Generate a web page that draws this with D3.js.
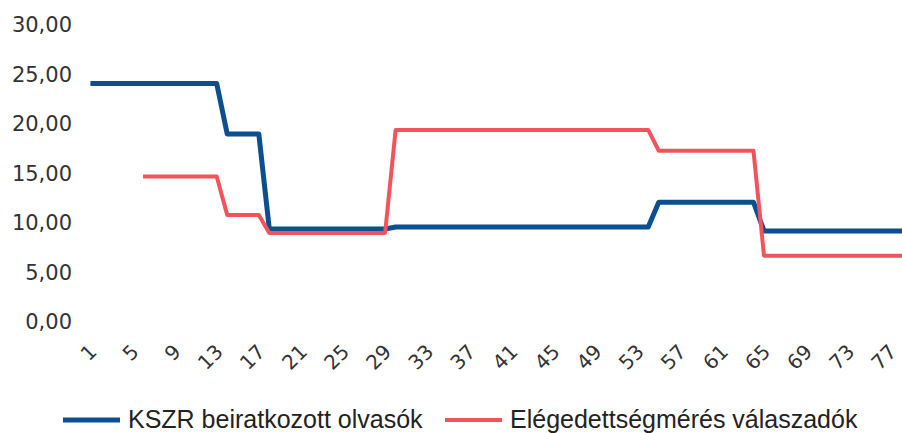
<!DOCTYPE html>
<html>
<head>
<meta charset="utf-8">
<script src="https://cdn.jsdelivr.net/npm/d3@7"></script>
<style>
  body { margin: 0; background: #fff; }
  svg { display: block; }
</style>
</head>
<body>
<div id="chart"></div>
<script>
var width = 902, height = 433;

// categories 1..79
var categories = [1,2,3,4,5,6,7,8,9,10,11,12,13,14,15,16,17,18,19,20,
  21,22,23,24,25,26,27,28,29,30,31,32,33,34,35,36,37,38,39,40,
  41,42,43,44,45,46,47,48,49,50,51,52,53,54,55,56,57,58,59,60,
  61,62,63,64,65,66,67,68,69,70,71,72,73,74,75,76,77,78,79];

var kszr = [24.1,24.1,24.1,24.1,24.1,24.1,24.1,24.1,24.1,24.1,24.1,24.1,24.1,
  19.0,19.0,19.0,19.0,
  9.4,9.4,9.4,9.4,9.4,9.4,9.4,9.4,9.4,9.4,9.4,9.4,
  9.6,9.6,9.6,9.6,9.6,9.6,9.6,9.6,9.6,9.6,9.6,9.6,9.6,9.6,9.6,9.6,9.6,9.6,9.6,9.6,9.6,9.6,9.6,9.6,9.6,
  12.1,12.1,12.1,12.1,12.1,12.1,12.1,12.1,12.1,12.1,
  9.2,9.2,9.2,9.2,9.2,9.2,9.2,9.2,9.2,9.2,9.2,9.2,9.2,9.2,9.2];

var elegedettseg = [null,null,null,null,null,
  14.7,14.7,14.7,14.7,14.7,14.7,14.7,14.7,
  10.8,10.8,10.8,10.8,
  9.0,9.0,9.0,9.0,9.0,9.0,9.0,9.0,9.0,9.0,9.0,9.0,
  19.4,19.4,19.4,19.4,19.4,19.4,19.4,19.4,19.4,19.4,19.4,19.4,19.4,19.4,19.4,19.4,19.4,19.4,19.4,19.4,19.4,19.4,19.4,19.4,19.4,
  17.3,17.3,17.3,17.3,17.3,17.3,17.3,17.3,17.3,17.3,
  6.7,6.7,6.7,6.7,6.7,6.7,6.7,6.7,6.7,6.7,6.7,6.7,6.7,6.7,6.7];

var yTicks = [0,5,10,15,20,25,30];
var xTicks = [1,5,9,13,17,21,25,29,33,37,41,45,49,53,57,61,65,69,73,77];

var seriesNames = ["KSZR beiratkozott olvasók", "Elégedettségmérés válaszadók"];
var colors = ["#0b4f8e", "#f3545c"];

var svg = d3.select("#chart").append("svg")
    .attr("width", width)
    .attr("height", height)
    .style("background", "#fff");

var step = 10.525;
var x = d3.scalePoint()
    .domain(categories)
    .range([90.4, 90.4 + step * (categories.length - 1)]);

var y = d3.scaleLinear()
    .domain([0, 30])
    .range([322, 25]);

// y axis
var yAxis = svg.append("g")
    .attr("transform", "translate(75,0)")
    .call(d3.axisLeft(y).tickValues(yTicks).tickSize(0).tickPadding(3)
        .tickFormat(d => d3.format(".2f")(d).replace(".", ",")));
yAxis.select(".domain").remove();
yAxis.selectAll("text")
    .attr("font-family", "DejaVu Sans")
    .attr("font-size", 21)
    .attr("fill", "#333");

// x axis
var xAxis = svg.append("g")
    .attr("transform", "translate(0,322)")
    .call(d3.axisBottom(x).tickValues(xTicks).tickSize(0));
xAxis.select(".domain").remove();
xAxis.selectAll("text")
    .attr("y", 0)
    .attr("dy", 0)
    .attr("text-anchor", "end")
    .attr("transform", "translate(7,31) rotate(-45)")
    .attr("font-family", "DejaVu Sans")
    .attr("font-size", 20)
    .attr("fill", "#333");

var line = d3.line()
    .defined(d => d[1] != null)
    .x(d => x(d[0]))
    .y(d => y(d[1]));

[kszr, elegedettseg].forEach(function (vals, i) {
    svg.append("path")
        .datum(categories.map((c, j) => [c, vals[j]]))
        .attr("fill", "none")
        .attr("stroke", colors[i])
        .attr("stroke-width", i == 0 ? 5 : 4)
        .attr("stroke-linejoin", "round")
        .attr("d", line);
});

// legend
var legendPos = [63, 445];
seriesNames.forEach(function (name, i) {
    var g = svg.append("g").attr("transform", "translate(" + legendPos[i] + ",420)");
    g.append("line")
        .attr("x1", 0).attr("x2", 57)
        .attr("stroke", colors[i])
        .attr("stroke-width", i == 0 ? 5 : 4);
    g.append("text")
        .attr("x", 65)
        .attr("y", 8)
        .attr("font-family", "Liberation Sans")
        .attr("font-size", 25)
        .attr("fill", "#222")
        .text(name);
});
</script>
</body>
</html>
